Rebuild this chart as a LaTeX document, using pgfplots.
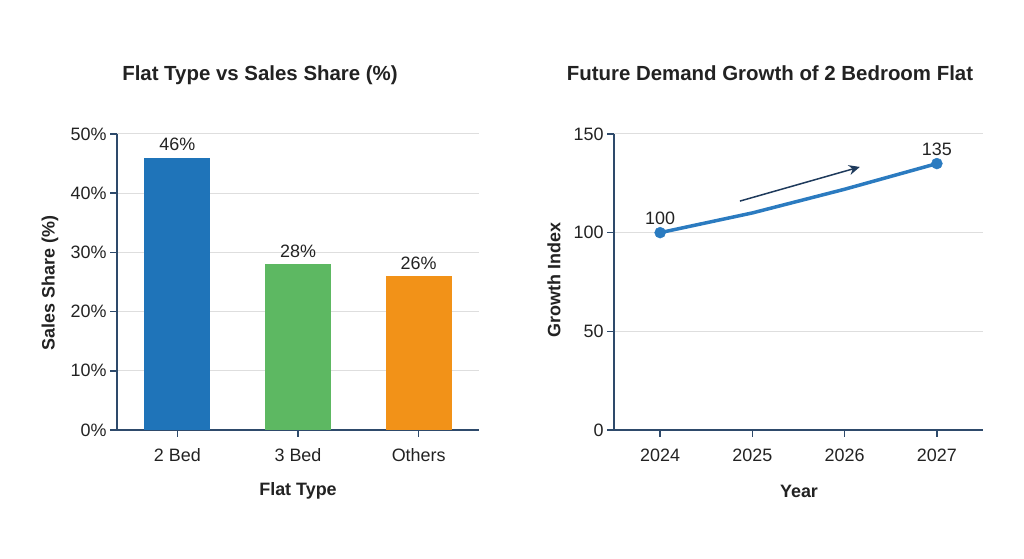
\documentclass[border=0pt]{standalone}
\usepackage{fontspec}
\setmainfont{Liberation Sans}
\usepackage{pgfplots}
\pgfplotsset{compat=1.18}
\usetikzlibrary{arrows.meta}

\definecolor{axisnavy}{HTML}{2E4A6B}
\definecolor{barblue}{HTML}{1F74B9}
\definecolor{bargreen}{HTML}{5DB862}
\definecolor{barorange}{HTML}{F29218}
\definecolor{lineblue}{HTML}{2B7BC0}
\definecolor{arrownavy}{HTML}{1E3A5C}
\definecolor{gridgray}{HTML}{DEDEDE}
\definecolor{txt}{HTML}{222222}

\pgfplotsset{
  panel/.style={
    scale only axis,
    anchor=south west,
    axis lines=left,
    axis line style={-, axisnavy, line width=1.8bp},
    major tick style={axisnavy, line width=1.5bp},
    tick align=outside,
    major tick length=7bp,
    ymajorgrids,
    grid style={gridgray, line width=1bp},
    ticklabel style={font=\fontsize{18}{20}\selectfont, text=txt},
    xticklabel style={yshift=-8bp},
    /pgf/number format/assume math mode=true,
    clip=false,
  },
}

\begin{document}
\begin{tikzpicture}[x=1bp,y=1bp]
\path[use as bounding box] (0,0) rectangle (1024,559);

% left panel: sales share by flat type
\begin{axis}[panel, at={(117bp,129bp)}, width=362bp, height=296bp,
  xmin=-0.5, xmax=2.5, ymin=0, ymax=50,
  xtick={0,1,2}, xticklabels={2 Bed,3 Bed,Others},
  ytick={0,10,20,30,40,50},
  yticklabel={\pgfmathprintnumber{\tick}\%},
  ybar, bar width=66bp,
  nodes near coords={\pgfmathprintnumber{\pgfplotspointmeta}\%},
  every node near coord/.append style={font=\fontsize{18}{20}\selectfont, text=txt, yshift=3bp},
]
\addplot[bar shift=0pt, fill=barblue, draw=none] coordinates {(0,46)};
\addplot[bar shift=0pt, fill=bargreen, draw=none] coordinates {(1,28)};
\addplot[bar shift=0pt, fill=barorange, draw=none] coordinates {(2,26)};
\end{axis}

% right panel: growth index
\begin{axis}[panel, at={(614bp,129bp)}, width=369bp, height=296bp,
  xmin=2023.5, xmax=2027.5, ymin=0, ymax=150,
  xtick={2024,2025,2026,2027}, ytick={0,50,100,150},
  xticklabel style={/pgf/number format/1000 sep={}},
]
\addplot[lineblue, line width=3.5bp, no marks] coordinates {(2024,100) (2025,110) (2026,122) (2027,135)};
\addplot[lineblue, only marks, mark=*, mark size=5.5bp,
  nodes near coords,
  every node near coord/.append style={font=\fontsize{18}{20}\selectfont, text=txt, yshift=4bp}]
  coordinates {(2024,100) (2027,135)};
\draw[arrownavy, line width=1.5bp, -{Stealth[length=11bp,width=10bp]}]
  (axis cs:2024.865,116) -- (axis cs:2026.165,133.3);
\end{axis}

% titles and axis labels
\node[font=\fontsize{20.5}{24}\selectfont\bfseries, text=txt] at (260,484) {Flat Type vs Sales Share (\%)};
\node[font=\fontsize{20.5}{24}\selectfont\bfseries, text=txt] at (770,486) {Future Demand Growth of 2 Bedroom Flat};
\node[font=\fontsize{18}{22}\selectfont\bfseries, text=txt] at (298,68) {Flat Type};
\node[font=\fontsize{18}{22}\selectfont\bfseries, text=txt] at (799,68) {Year};
\node[font=\fontsize{18}{22}\selectfont\bfseries, text=txt, rotate=90] at (50,276) {Sales Share (\%)};
\node[font=\fontsize{18}{22}\selectfont\bfseries, text=txt, rotate=90] at (554,279) {Growth Index};
\end{tikzpicture}
\end{document}
